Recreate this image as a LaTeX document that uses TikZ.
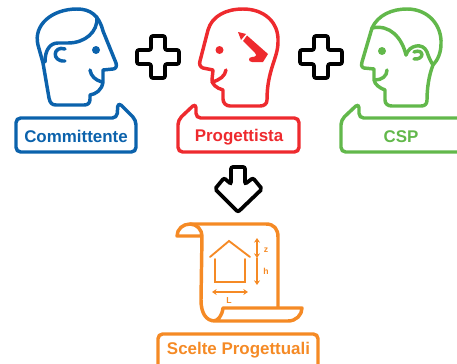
\documentclass[tikz,border=0pt]{standalone}
\usepackage{fontspec}
\usetikzlibrary{arrows.meta}
\setmainfont{Liberation Sans}
\definecolor{cblue}{HTML}{0B62AC}
\definecolor{cred}{HTML}{EE2A2E}
\definecolor{cgreen}{HTML}{62B84B}
\definecolor{corange}{HTML}{F58A25}
\begin{document}
\begin{tikzpicture}[
      x = 0.75pt, y = -0.75pt,
      > = {Stealth[length=3.5pt, width=4.5pt]},
 stroke/.style = {line width=2.6pt, line join=round, line cap=round},
   sign/.style = {line width=2.8pt, draw=black, rounded corners=1.5pt},
 bubble/.style = {line width=2.6pt, rounded corners=3.5pt, line join=round},
    tag/.style = {font=\bfseries\fontsize{12.7}{14}\selectfont, inner sep=0pt},
  small/.style = {font=\bfseries\fontsize{6.5}{7}\selectfont, text=corange, inner sep=0pt},
   fine/.style = {line width=1.4pt, draw=corange, line cap=round},
]
\useasboundingbox (0,0) rectangle (457,364);
% blue head
\draw[stroke, cblue] (43,63) -- (49,98) .. controls (50,103) and (52,105) .. (56,105)
  -- (84,105) .. controls (88,105) and (90,103) .. (90,99) -- (90,95)
  .. controls (96,94) and (102,90) .. (103,82) -- (103,70) -- (113,69)
  .. controls (116,69) and (117,66) .. (116,63) -- (103,31)
  .. controls (99,15) and (90,9) .. (77,9) .. controls (52,9) and (33,25) .. (38,45) -- cycle;
\draw[stroke, cblue] (97,17) .. controls (98,32) and (85,43) .. (68,43) -- (58,43)
  .. controls (50,43) and (45,50) .. (45,62);
\draw[stroke, cblue] (65,49) .. controls (53,45) and (51,62) .. (65,61);
\draw[stroke, cblue] (90,70) .. controls (91,76) and (95,80) .. (102,82);
\fill[cblue] (96,50) circle[radius=4];
\node[tag, text=cblue] (committente) at (76,136.5) {Committente};
\draw[bubble, cblue] (117,118) -- (118,102) -- (136,120) -- (136,152) -- (16,152) -- (16,118) -- cycle;
% red head
\draw[stroke, cred] (213,70) -- (203,68) .. controls (200,67) and (199,64) .. (200,61)
  -- (208,30) .. controls (212,16) and (226,9) .. (243,9)
  .. controls (264,9) and (279,22) .. (278,42) .. controls (278,58) and (267,70) .. (267,100)
  .. controls (267,104) and (264,106) .. (260,106) -- (230,106)
  .. controls (226,106) and (223,103) .. (223,99) -- (223,90)
  .. controls (216,88) and (212,84) .. (212,80) -- cycle;
\draw[stroke, cred] (226,70) .. controls (225,76) and (220,80) .. (212,82);
\fill[cred] (219.5,50) circle[radius=4];
% pencil
\fill[cred] (238,32) -- (246,34) -- (241,40) -- cycle;
\fill[cred] (247,35.5) -- (268,54) -- (263,62) -- (252,62) .. controls (248,62) and (248,57) .. (252,57)
  .. controls (256,57) and (257,55) .. (255,53) -- (243,41) -- cycle;
\node[tag, text=cred] (progettista) at (239,137) {Progettista};
\draw[bubble, cred] (196,118) -- (196,103) -- (178,120) -- (178,152) -- (299,152) -- (299,118) -- cycle;
% green head
\draw[stroke, cgreen] (374,69) -- (364,68) .. controls (361,67) and (361,64) .. (362,62)
  -- (372,28) .. controls (378,15) and (392,9) .. (407,9)
  .. controls (428,9) and (442,25) .. (441,44) .. controls (441,52) and (438,60) .. (433,65)
  .. controls (429,75) and (427,88) .. (427,100) .. controls (427,104) and (425,106) .. (421,106)
  -- (392,106) .. controls (388,106) and (385,104) .. (385,100) -- (385,90)
  .. controls (380,88) and (375,85) .. (374,80) -- cycle;
\draw[stroke, cgreen] (372,28) .. controls (390,24) and (402,38) .. (406,55);
\draw[stroke, cgreen] (406,55) .. controls (409,45) and (423,42) .. (427,52) .. controls (429,58) and (431,62) .. (433,65);
\draw[stroke, cgreen] (414,52) .. controls (424,48) and (425,60) .. (414,59);
\draw[stroke, cgreen] (387,70) .. controls (387,76) and (382,80) .. (375,80);
\fill[cgreen] (382,51) circle[radius=4];
\node[tag, text=cgreen] (csp) at (401,137) {CSP};
\draw[bubble, cgreen] (359,118) -- (359,103) -- (341,120) -- (341,152) -- (470,152) -- (470,118) -- cycle;
% plus signs
\foreach \px in {158,321}
  \draw[sign] (\px-7,36) -- (\px+7,36) -- (\px+7,50) -- (\px+21,50) -- (\px+21,64) -- (\px+7,64)
    -- (\px+7,78) -- (\px-7,78) -- (\px-7,64) -- (\px-21,64) -- (\px-21,50) -- (\px-7,50) -- cycle;
% arrow
\draw[sign] (231,167) -- (245,167) -- (245,184) -- (253,178) -- (262,189) -- (238,212)
  -- (215,189) -- (224,178) -- (231,184) -- cycle;
% scroll
\draw[stroke, corange] (202,236) -- (177,236) .. controls (177,229) and (183,224) .. (190,224)
  .. controls (197,224) and (202,230) .. (202,236) -- (201,300)
  .. controls (201,313) and (206,321) .. (215,321) -- (288,321)
  .. controls (296,321) and (302,315) .. (302,308) -- (223,308)
  .. controls (222,316) and (218,321) .. (213,321);
\draw[stroke, corange] (190,224) -- (266,224) .. controls (274,224) and (278,229) .. (278,237) -- (278,307);
% house
\draw[fine] (210,257) -- (229,241) -- (250,257);
\draw[fine] (215,259) -- (215,282) -- (245,282) -- (245,259);
\draw[fine, <->] (257,238) -- (257,258);
\draw[fine, ->] (257,258) -- (257,285);
\draw[fine, <->] (212,292) -- (248,292);
\node[small] (z) at (266,250) {z};
\node[small] (h) at (266,271) {h};
\node[small] (l) at (229,301) {L};
\node[tag, text=corange] (scelte) at (238.5,350) {Scelte Progettuali};
\draw[bubble, corange] (158,375) -- (158,334) -- (318,334) -- (318,375);
\end{tikzpicture}
\end{document}
